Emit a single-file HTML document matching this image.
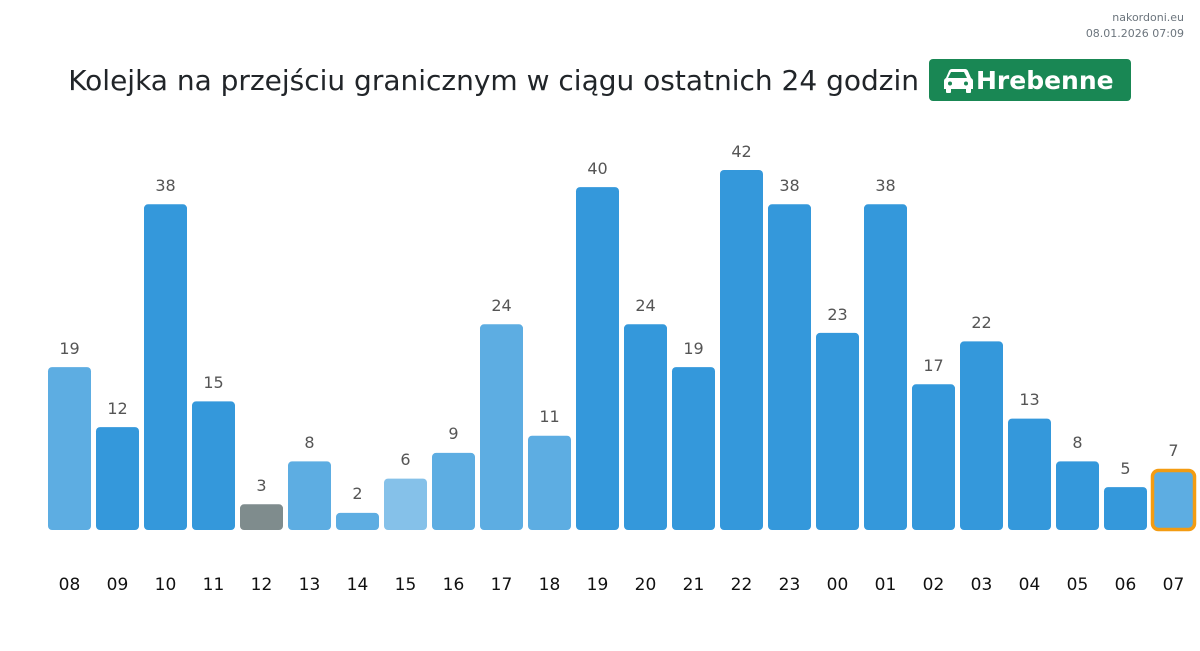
<!DOCTYPE html>
<html><head><meta charset="utf-8"><style>
body{margin:0;background:#fff;}
svg{display:block;font-family:"DejaVu Sans","Liberation Sans",sans-serif;}
.v{font-size:16px;fill:#555;text-anchor:middle}
.x{font-size:17px;fill:#111;text-anchor:middle}
.D{fill:#3498db}.L{fill:#5dade2}.LL{fill:#85c1e9}.G{fill:#7f8c8d}
</style></head><body>
<svg width="1200" height="651" viewBox="0 0 1200 651">
<text x="1184" y="21" font-size="11" fill="#6c757d" text-anchor="end">nakordoni.eu</text>
<text x="1184" y="37" font-size="11" fill="#6c757d" text-anchor="end">08.01.2026 07:09</text>
<text x="919" y="90" font-size="28" fill="#212529" text-anchor="end">Kolejka na przejściu granicznym w ciągu ostatnich 24 godzin</text>
<rect x="929" y="59" width="202" height="42" rx="4" fill="#198754"/>
<g fill="#fff">
<path d="M950 69 h15 q2 0 3 2 l3 7 q2 1 2 3 v8 h-2 v3 q0 1 -1 1 h-3 q-1 0 -1 -1 v-3 h-15 v3 q0 1 -1 1 h-3 q-1 0 -1 -1 v-3 h-2 v-8 q0 -2 2 -3 l3 -7 q1 -2 3 -2 z M951 72 l-3 6 h19 l-3 -6 z" fill-rule="evenodd"/>
<circle cx="950" cy="83.5" r="2" fill="#198754"/><circle cx="966" cy="83.5" r="2" fill="#198754"/>
</g>
<text x="976" y="89" font-size="25" font-weight="bold" fill="#fff">Hrebenne</text>
<g>
<rect class="L" x="48" y="367.1" width="43" height="162.9" rx="4"/><text class="v" x="69.5" y="354">19</text><text class="x" x="69.5" y="590">08</text>
<rect class="D" x="96" y="427.1" width="43" height="102.9" rx="4"/><text class="v" x="117.5" y="414">12</text><text class="x" x="117.5" y="590">09</text>
<rect class="D" x="144" y="204.3" width="43" height="325.7" rx="4"/><text class="v" x="165.5" y="191">38</text><text class="x" x="165.5" y="590">10</text>
<rect class="D" x="192" y="401.4" width="43" height="128.6" rx="4"/><text class="v" x="213.5" y="388">15</text><text class="x" x="213.5" y="590">11</text>
<rect class="G" x="240" y="504.3" width="43" height="25.7" rx="4"/><text class="v" x="261.5" y="491">3</text><text class="x" x="261.5" y="590">12</text>
<rect class="L" x="288" y="461.4" width="43" height="68.6" rx="4"/><text class="v" x="309.5" y="448">8</text><text class="x" x="309.5" y="590">13</text>
<rect class="L" x="336" y="512.9" width="43" height="17.1" rx="4"/><text class="v" x="357.5" y="499">2</text><text class="x" x="357.5" y="590">14</text>
<rect class="LL" x="384" y="478.6" width="43" height="51.4" rx="4"/><text class="v" x="405.5" y="465">6</text><text class="x" x="405.5" y="590">15</text>
<rect class="L" x="432" y="452.9" width="43" height="77.1" rx="4"/><text class="v" x="453.5" y="439">9</text><text class="x" x="453.5" y="590">16</text>
<rect class="L" x="480" y="324.3" width="43" height="205.7" rx="4"/><text class="v" x="501.5" y="311">24</text><text class="x" x="501.5" y="590">17</text>
<rect class="L" x="528" y="435.7" width="43" height="94.3" rx="4"/><text class="v" x="549.5" y="422">11</text><text class="x" x="549.5" y="590">18</text>
<rect class="D" x="576" y="187.1" width="43" height="342.9" rx="4"/><text class="v" x="597.5" y="174">40</text><text class="x" x="597.5" y="590">19</text>
<rect class="D" x="624" y="324.3" width="43" height="205.7" rx="4"/><text class="v" x="645.5" y="311">24</text><text class="x" x="645.5" y="590">20</text>
<rect class="D" x="672" y="367.1" width="43" height="162.9" rx="4"/><text class="v" x="693.5" y="354">19</text><text class="x" x="693.5" y="590">21</text>
<rect class="D" x="720" y="170" width="43" height="360" rx="4"/><text class="v" x="741.5" y="157">42</text><text class="x" x="741.5" y="590">22</text>
<rect class="D" x="768" y="204.3" width="43" height="325.7" rx="4"/><text class="v" x="789.5" y="191">38</text><text class="x" x="789.5" y="590">23</text>
<rect class="D" x="816" y="332.9" width="43" height="197.1" rx="4"/><text class="v" x="837.5" y="320">23</text><text class="x" x="837.5" y="590">00</text>
<rect class="D" x="864" y="204.3" width="43" height="325.7" rx="4"/><text class="v" x="885.5" y="191">38</text><text class="x" x="885.5" y="590">01</text>
<rect class="D" x="912" y="384.3" width="43" height="145.7" rx="4"/><text class="v" x="933.5" y="371">17</text><text class="x" x="933.5" y="590">02</text>
<rect class="D" x="960" y="341.4" width="43" height="188.6" rx="4"/><text class="v" x="981.5" y="328">22</text><text class="x" x="981.5" y="590">03</text>
<rect class="D" x="1008" y="418.6" width="43" height="111.4" rx="4"/><text class="v" x="1029.5" y="405">13</text><text class="x" x="1029.5" y="590">04</text>
<rect class="D" x="1056" y="461.4" width="43" height="68.6" rx="4"/><text class="v" x="1077.5" y="448">8</text><text class="x" x="1077.5" y="590">05</text>
<rect class="D" x="1104" y="487.1" width="43" height="42.9" rx="4"/><text class="v" x="1125.5" y="474">5</text><text class="x" x="1125.5" y="590">06</text>
<rect class="L" x="1152.5" y="470.5" width="42" height="59" rx="6" stroke="#f39c12" stroke-width="3.5"/><text class="v" x="1173.5" y="456">7</text><text class="x" x="1173.5" y="590">07</text>
</g>
</svg>
</body></html>
